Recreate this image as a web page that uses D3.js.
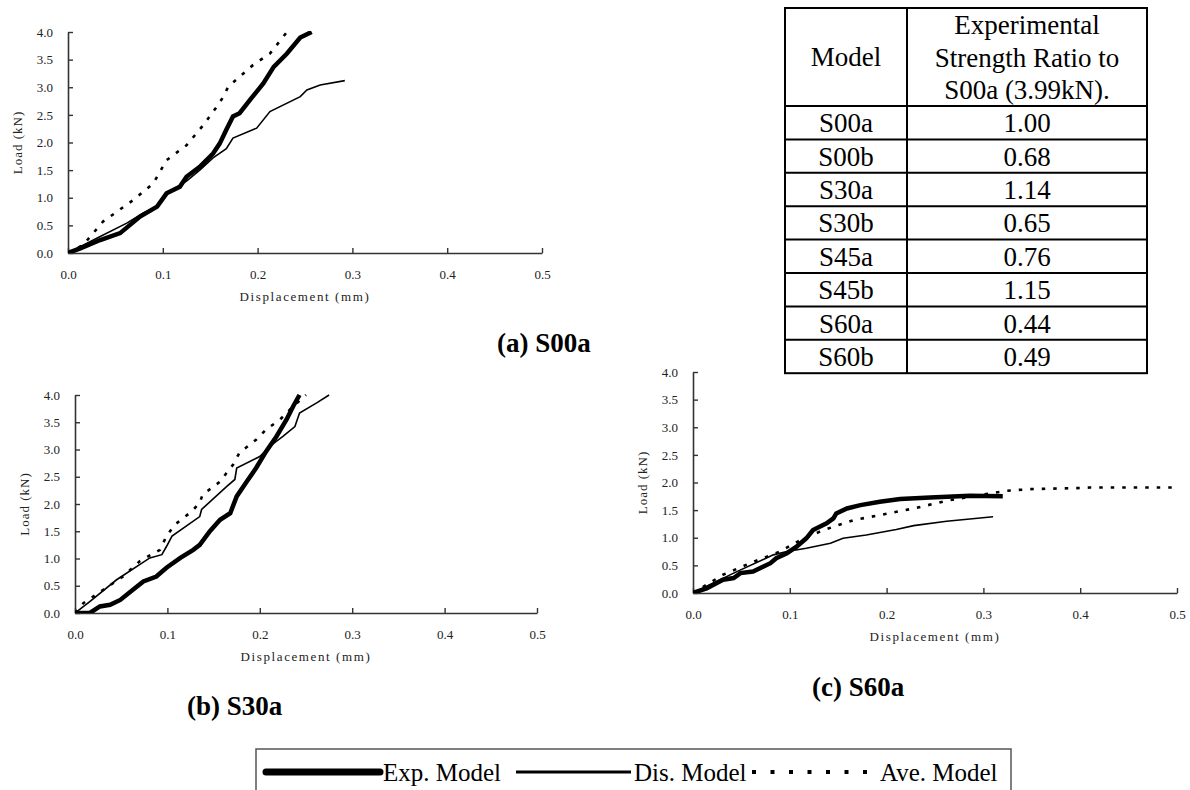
<!DOCTYPE html>
<html>
<head>
<meta charset="utf-8">
<script src="https://cdn.jsdelivr.net/npm/d3@7"></script>
<style>
  body { margin: 0; background: #fff; }
  svg { display: block; font-family: "Liberation Serif", "Times New Roman", serif; }
</style>
</head>
<body>
<div id="chart"></div>
<script>
// Data: [displacement (mm), load (kN)]
const s00aExp = [[0,0],[0.013,0.085],[0.034,0.235],[0.055,0.36],[0.076,0.66],[0.094,0.84],[0.104,1.08],[0.118,1.2],[0.125,1.38],[0.139,1.56],[0.153,1.8],[0.16,1.98],[0.167,2.23],[0.174,2.47],[0.181,2.53],[0.192,2.77],[0.206,3.07],[0.217,3.37],[0.231,3.61],[0.245,3.9],[0.257,4.0]];
const s00aDis = [[0,0],[0.034,0.3],[0.062,0.54],[0.079,0.72],[0.094,0.84],[0.104,1.08],[0.125,1.3],[0.139,1.5],[0.153,1.72],[0.167,1.89],[0.174,2.08],[0.199,2.26],[0.213,2.56],[0.245,2.83],[0.252,2.95],[0.266,3.04],[0.292,3.12]];
const s00aAve = [[0,0],[0.016,0.145],[0.037,0.57],[0.069,0.96],[0.09,1.26],[0.104,1.68],[0.125,1.95],[0.143,2.32],[0.157,2.65],[0.164,2.83],[0.169,3.01],[0.195,3.4],[0.213,3.61],[0.231,4.0]];

const s30aExp = [[0,0],[0.016,0],[0.027,0.12],[0.038,0.15],[0.049,0.24],[0.063,0.43],[0.074,0.58],[0.088,0.67],[0.099,0.83],[0.114,1.01],[0.128,1.16],[0.135,1.25],[0.146,1.5],[0.157,1.71],[0.168,1.83],[0.175,2.14],[0.185,2.39],[0.196,2.66],[0.207,2.97],[0.218,3.24],[0.229,3.55],[0.236,3.79],[0.243,4.0]];
const s30aDis = [[0,0],[0.016,0.21],[0.045,0.61],[0.081,1.01],[0.094,1.07],[0.099,1.22],[0.105,1.41],[0.135,1.77],[0.137,1.9],[0.164,2.32],[0.173,2.45],[0.175,2.66],[0.2,2.87],[0.211,3.06],[0.225,3.24],[0.238,3.42],[0.243,3.67],[0.262,3.86],[0.275,4.0]];
const s30aAve = [[0,0],[0.009,0.18],[0.031,0.43],[0.052,0.67],[0.07,0.95],[0.092,1.16],[0.099,1.41],[0.108,1.62],[0.126,1.86],[0.135,2.02],[0.138,2.17],[0.157,2.41],[0.164,2.57],[0.171,2.72],[0.178,2.94],[0.196,3.18],[0.207,3.37],[0.222,3.55],[0.236,3.79],[0.25,4.0]];

const s60aExp = [[0,0],[0.014,0.085],[0.031,0.24],[0.042,0.27],[0.049,0.36],[0.062,0.39],[0.08,0.54],[0.086,0.63],[0.097,0.72],[0.107,0.84],[0.117,0.99],[0.124,1.14],[0.138,1.26],[0.145,1.35],[0.148,1.44],[0.159,1.53],[0.173,1.59],[0.193,1.65],[0.214,1.7],[0.245,1.73],[0.286,1.76],[0.32,1.75]];
const s60aDis = [[0,0],[0.042,0.36],[0.083,0.69],[0.097,0.75],[0.117,0.81],[0.142,0.9],[0.155,0.99],[0.179,1.05],[0.21,1.15],[0.228,1.22],[0.262,1.3],[0.31,1.38]];
const s60aAve = [[0,0],[0.031,0.33],[0.059,0.54],[0.09,0.75],[0.111,0.96],[0.131,1.11],[0.145,1.2],[0.166,1.32],[0.19,1.4],[0.228,1.53],[0.265,1.68],[0.303,1.79],[0.324,1.85],[0.348,1.88],[0.4,1.9],[0.41,1.91],[0.496,1.91]];

const xTicks = [0, 0.1, 0.2, 0.3, 0.4, 0.5];
const yTicks = [0, 0.5, 1.0, 1.5, 2.0, 2.5, 3.0, 3.5, 4.0];

const tableHeader = ['Model', ['Experimental', 'Strength Ratio to', 'S00a (3.99kN).']];
const tableModels = ['S00a', 'S00b', 'S30a', 'S30b', 'S45a', 'S45b', 'S60a', 'S60b'];
const tableRatios = ['1.00', '0.68', '1.14', '0.65', '0.76', '1.15', '0.44', '0.49'];

const legendNames = ['Exp. Model', 'Dis. Model', 'Ave. Model'];

const FONT = '"Liberation Serif", "Times New Roman", Tinos, serif';
const width = 1190, height = 790;
const svg = d3.select('#chart').append('svg')
  .attr('width', width)
  .attr('height', height);

const styles = {
  exp: { width: 4.5, dash: null },
  dis: { width: 1.6, dash: null },
  ave: { width: 2.6, dash: '3.5,8' }
};

const panels = [
  { id: 'a', left: 68, top: 32, w: 474, h: 221, label: '(a) S00a', lx: 497, ly: 352,
    series: [['ave', s00aAve], ['dis', s00aDis], ['exp', s00aExp]] },
  { id: 'b', left: 75, top: 395, w: 462, h: 218, label: '(b) S30a', lx: 187, ly: 715,
    series: [['ave', s30aAve], ['dis', s30aDis], ['exp', s30aExp]] },
  { id: 'c', left: 693, top: 372, w: 484, h: 221, label: '(c) S60a', lx: 812, ly: 696,
    series: [['ave', s60aAve], ['dis', s60aDis], ['exp', s60aExp]] }
];

panels.forEach(p => {
  const g = svg.append('g').attr('transform', `translate(${p.left},${p.top})`);
  const x = d3.scaleLinear().domain([0, 0.5]).range([0, p.w]);
  const y = d3.scaleLinear().domain([0, 4]).range([p.h, 0]);

  g.append('clipPath').attr('id', 'clip-' + p.id)
    .append('rect').attr('x', 0).attr('y', -1).attr('width', p.w + 2).attr('height', p.h + 1);

  // axes, ticks pointing into the plot
  const xAxis = g.append('g')
    .attr('transform', `translate(0,${p.h})`)
    .call(d3.axisBottom(x).tickValues(xTicks).tickSize(-5).tickSizeOuter(0).tickPadding(17).tickFormat(d3.format('.1f')));
  const yAxis = g.append('g')
    .call(d3.axisLeft(y).tickValues(yTicks).tickSize(-5).tickSizeOuter(0).tickPadding(15).tickFormat(d3.format('.1f')));

  [xAxis, yAxis].forEach(axis => {
    axis.attr('font-family', FONT);
    axis.select('.domain').attr('stroke', '#333').attr('stroke-width', 1.6);
    axis.selectAll('line').attr('stroke', '#333').attr('stroke-width', 1.4);
    axis.selectAll('text')
      .attr('fill', '#222')
      .style('font-size', '13px');
  });

  g.append('text')
    .attr('x', p.w / 2)
    .attr('y', p.h + 48)
    .attr('text-anchor', 'middle')
    .style('font-size', '13px')
    .style('letter-spacing', '1.6px')
    .attr('fill', '#222')
    .text('Displacement (mm)');

  g.append('text')
    .attr('transform', `translate(-46,${p.h / 2}) rotate(-90)`)
    .attr('text-anchor', 'middle')
    .style('font-size', '13px')
    .style('letter-spacing', '1px')
    .attr('fill', '#222')
    .text('Load (kN)');

  const line = d3.line().x(d => x(d[0])).y(d => y(d[1]));

  const plot = g.append('g').attr('clip-path', `url(#clip-${p.id})`);
  p.series.forEach(([kind, data]) => {
    plot.append('path')
      .datum(data)
      .attr('fill', 'none')
      .attr('stroke', '#000')
      .attr('stroke-width', styles[kind].width)
      .attr('stroke-dasharray', styles[kind].dash)
      .attr('stroke-linejoin', 'miter')
      .attr('d', line);
  });

  svg.append('text')
    .attr('x', p.lx)
    .attr('y', p.ly)
    .style('font-size', '27px')
    .style('font-weight', 'bold')
    .attr('fill', '#000')
    .text(p.label);
});

// Table
const tbl = { left: 785, top: 8, col: 907, right: 1147, headH: 98, rowH: 33.4 };
const tg = svg.append('g');
const tableBottom = tbl.top + tbl.headH + tableModels.length * tbl.rowH;
tg.append('rect')
  .attr('x', tbl.left).attr('y', tbl.top)
  .attr('width', tbl.right - tbl.left).attr('height', tableBottom - tbl.top)
  .attr('fill', 'none').attr('stroke', '#000').attr('stroke-width', 2);
tg.append('line')
  .attr('x1', tbl.col).attr('x2', tbl.col)
  .attr('y1', tbl.top).attr('y2', tableBottom)
  .attr('stroke', '#000').attr('stroke-width', 2);
tableModels.forEach((m, i) => {
  const y0 = tbl.top + tbl.headH + i * tbl.rowH;
  tg.append('line')
    .attr('x1', tbl.left).attr('x2', tbl.right)
    .attr('y1', y0).attr('y2', y0)
    .attr('stroke', '#000').attr('stroke-width', 2);
  tg.append('text')
    .attr('x', (tbl.left + tbl.col) / 2).attr('y', y0 + tbl.rowH / 2)
    .attr('dy', '0.35em').attr('text-anchor', 'middle')
    .style('font-size', '27px').text(m);
  tg.append('text')
    .attr('x', (tbl.col + tbl.right) / 2).attr('y', y0 + tbl.rowH / 2)
    .attr('dy', '0.35em').attr('text-anchor', 'middle')
    .style('font-size', '27px').text(tableRatios[i]);
});
tg.append('text')
  .attr('x', (tbl.left + tbl.col) / 2).attr('y', tbl.top + tbl.headH / 2)
  .attr('dy', '0.35em').attr('text-anchor', 'middle')
  .style('font-size', '27px').text(tableHeader[0]);
tableHeader[1].forEach((t, i) => {
  tg.append('text')
    .attr('x', (tbl.col + tbl.right) / 2).attr('y', tbl.top + 17 + i * 32.5)
    .attr('dy', '0.35em').attr('text-anchor', 'middle')
    .style('font-size', '27px').text(t);
});

// Legend
const lg = svg.append('g');
lg.append('rect')
  .attr('x', 256).attr('y', 749)
  .attr('width', 1011 - 256).attr('height', 60)
  .attr('fill', 'none').attr('stroke', '#555').attr('stroke-width', 1.5);
const legendItems = [
  { kind: 'exp', x1: 266, x2: 380, tx: 383, sw: 7, dash: null, cap: 'round' },
  { kind: 'dis', x1: 516, x2: 631, tx: 634, sw: 3, dash: null, cap: 'butt' },
  { kind: 'ave', x1: 752, x2: 878, tx: 880, sw: 4, dash: '4,14.5', cap: 'butt' }
];
legendItems.forEach((it, i) => {
  lg.append('line')
    .attr('x1', it.x1).attr('x2', it.x2)
    .attr('y1', 772).attr('y2', 772)
    .attr('stroke', '#000')
    .attr('stroke-width', it.sw)
    .attr('stroke-linecap', it.cap)
    .attr('stroke-dasharray', it.dash);
  lg.append('text')
    .attr('x', it.tx).attr('y', 772)
    .attr('dy', '0.35em')
    .style('font-size', '25px')
    .text(legendNames[i]);
});

svg.selectAll('text').style('font-family', FONT);
</script>
</body>
</html>
